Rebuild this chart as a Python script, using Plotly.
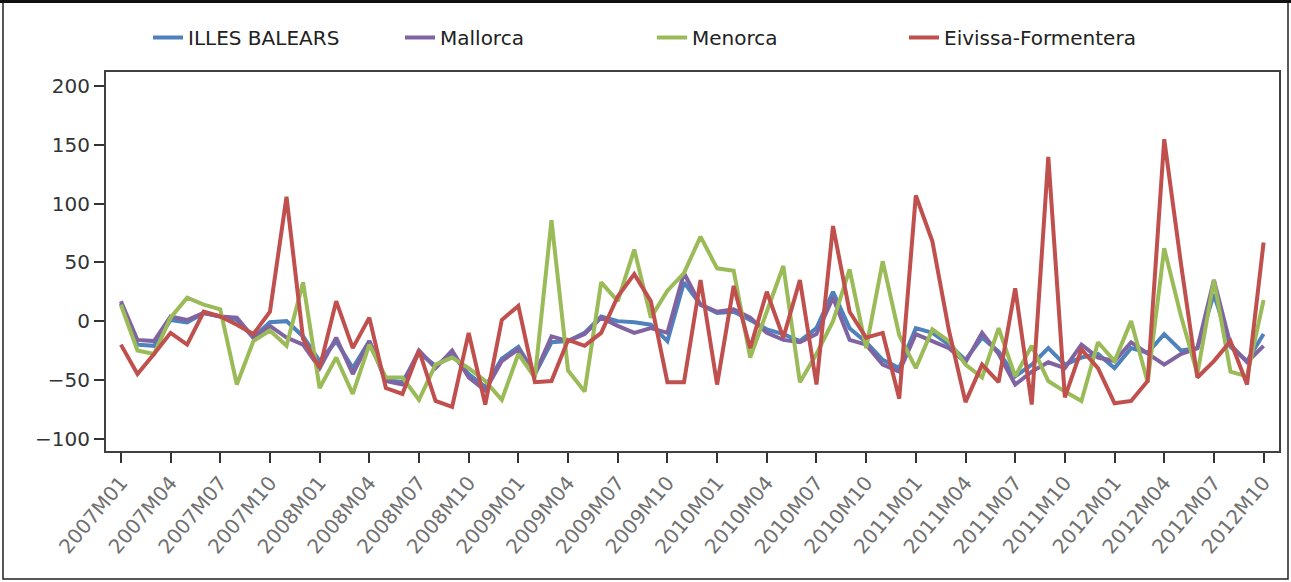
import plotly.graph_objects as go

months = [
    "2007M01","2007M02","2007M03","2007M04","2007M05","2007M06","2007M07","2007M08","2007M09","2007M10","2007M11","2007M12",
    "2008M01","2008M02","2008M03","2008M04","2008M05","2008M06","2008M07","2008M08","2008M09","2008M10","2008M11","2008M12",
    "2009M01","2009M02","2009M03","2009M04","2009M05","2009M06","2009M07","2009M08","2009M09","2009M10","2009M11","2009M12",
    "2010M01","2010M02","2010M03","2010M04","2010M05","2010M06","2010M07","2010M08","2010M09","2010M10","2010M11","2010M12",
    "2011M01","2011M02","2011M03","2011M04","2011M05","2011M06","2011M07","2011M08","2011M09","2011M10","2011M11","2011M12",
    "2012M01","2012M02","2012M03","2012M04","2012M05","2012M06","2012M07","2012M08","2012M09","2012M10",
]

tick_labels = [
    "2007M01","2007M04","2007M07","2007M10","2008M01","2008M04","2008M07","2008M10",
    "2009M01","2009M04","2009M07","2009M10","2010M01","2010M04","2010M07","2010M10",
    "2011M01","2011M04","2011M07","2011M10","2012M01","2012M04","2012M07","2012M10",
]

illes_balears = [
    15, -20, -21, 1, -1, 7, 4, 1, -14, -1, 0, -13,
    -34, -17, -40, -17, -50, -52, -27, -38, -28, -45, -56, -32,
    -22, -45, -18, -17, -10, 4, 0, -1, -3, -17, 33, 14,
    7, 8, 1, -7, -11, -17, -6, 25, -6, -18, -33, -40,
    -6, -10, -20, -33, -14, -26, -47, -37, -23, -37, -31, -28,
    -40, -23, -27, -11, -25, -23, 23, -22, -34, -11,
]

mallorca = [
    17, -16, -17, 4, 1, 7, 4, 3, -14, -4, -14, -20,
    -40, -14, -45, -17, -51, -54, -25, -40, -25, -48, -59, -34,
    -24, -45, -13, -17, -11, 3, -4, -10, -6, -10, 41, 14,
    8, 10, 3, -10, -16, -18, -11, 20, -16, -20, -37, -43,
    -11, -17, -23, -35, -10, -28, -54, -43, -35, -40, -20, -31,
    -34, -18, -28, -37, -28, -23, 35, -20, -35, -21,
]

menorca = [
    14, -25, -28, 3, 20, 14, 10, -54, -17, -8, -21, 33,
    -57, -31, -62, -20, -48, -48, -67, -37, -31, -40, -51, -67,
    -28, -48, 86, -42, -60, 33, 17, 61, 3, 26, 41, 72,
    45, 43, -31, 8, 47, -52, -28, 0, 44, -23, 51, -12,
    -40, -7, -17, -37, -48, -6, -47, -21, -51, -60, -68, -18,
    -34, 0, -52, 62, 5, -45, 35, -43, -47, 18,
]

eivissa_formentera = [
    -20, -45, -28, -10, -20, 8, 4, -3, -11, 8, 106, -15,
    -40, 17, -23, 3, -57, -62, -25, -68, -73, -10, -71, 1,
    13, -52, -51, -16, -21, -10, 21, 40, 17, -52, -52, 35,
    -54, 30, -23, 25, -14, 35, -54, 81, 8, -14, -10, -66,
    107, 68, -8, -69, -37, -52, 28, -71, 140, -65, -24, -40,
    -70, -68, -51, 155, 50, -48, -34, -17, -54, 67,
]

series_names = ["ILLES BALEARS", "Mallorca", "Menorca", "Eivissa-Formentera"]
series_values = [illes_balears, mallorca, menorca, eivissa_formentera]
series_colors = ["#4F81BD", "#8064A2", "#9BBB59", "#C0504D"]

FONT = "DejaVu Sans"
W, H = 1291, 582
ML, MR, MT, MB = 106, 12, 72, 131
PW = W - ML - MR
PH = H - MT - MB

def px_x(p):
    return (p - ML) / PW

def px_y(p):
    return (H - MB - p) / PH

fig = go.Figure()
for name, vals, col in zip(series_names, series_values, series_colors):
    fig.add_trace(go.Scatter(
        x=list(range(len(months))), y=vals, name=name, mode="lines",
        line=dict(color=col, width=4),
    ))

tick_pos = [months.index(t) for t in tick_labels]

fig.update_layout(
    width=W, height=H,
    margin=dict(l=ML, r=MR, t=MT, b=MB, autoexpand=False),
    paper_bgcolor="white", plot_bgcolor="white",
    font=dict(family=FONT, size=20, color="#333333"),
    showlegend=True,
    legend=dict(
        orientation="h", x=px_x(148), y=px_y(18), xanchor="left", yanchor="top",
        entrywidth=207, entrywidthmode="pixels", itemwidth=30,
        font=dict(family=FONT, size=20, color="#222222"),
        bgcolor="rgba(0,0,0,0)",
    ),
    xaxis=dict(
        range=[-0.9, 69.93], tickmode="array", tickvals=tick_pos, ticktext=tick_labels,
        tickangle=-50, ticks="outside", ticklen=10, tickwidth=1.5, tickcolor="#333333",
        showline=True, linecolor="#404040", linewidth=2, mirror=True,
        showgrid=False, zeroline=False, automargin=False,
        tickfont=dict(family=FONT, size=20, color="#707070"),
    ),
    yaxis=dict(
        range=[-110.6, 212.2], tickmode="array", tickvals=[-100, -50, 0, 50, 100, 150, 200],
        ticks="outside", ticklen=10, tickwidth=1.5, tickcolor="#333333",
        showline=True, linecolor="#404040", linewidth=2, mirror=True,
        showgrid=False, zeroline=False, automargin=False,
        tickfont=dict(family=FONT, size=20, color="#333333"),
    ),
)

# outer chart frame
fig.add_shape(type="rect", xref="paper", yref="paper",
              x0=px_x(3), x1=px_x(1288), y0=px_y(579), y1=px_y(2),
              line=dict(color="#222222", width=1.5), layer="below")
fig.add_shape(type="line", xref="paper", yref="paper",
              x0=px_x(0), x1=px_x(1291), y0=px_y(1.5), y1=px_y(1.5),
              line=dict(color="#111111", width=3))

fig.write_html(
    "out.html",
    config={"displayModeBar": False},
    post_script="document.body.style.margin='0px';document.body.style.overflow='hidden';",
)
